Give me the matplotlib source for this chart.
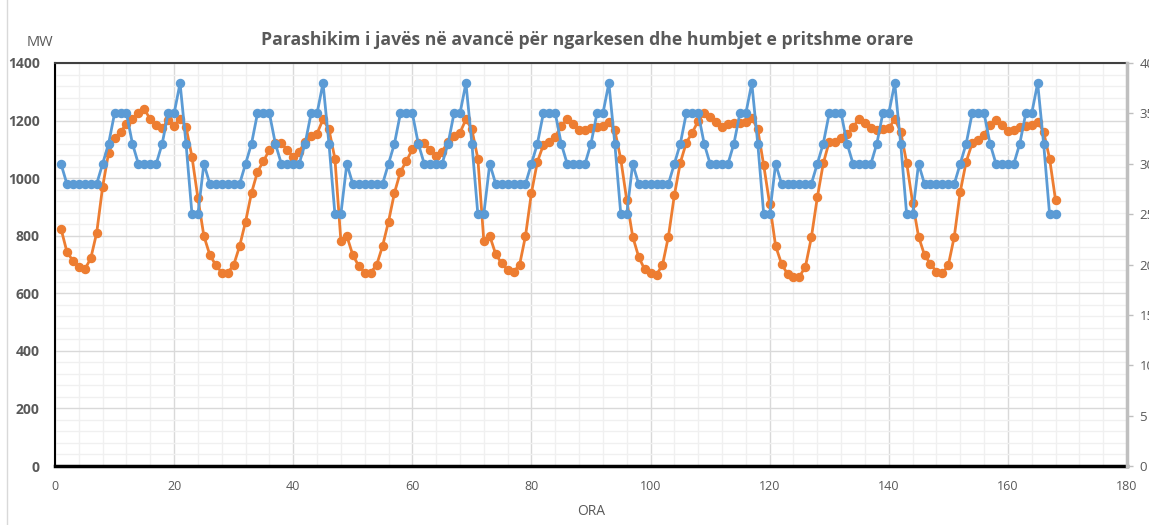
import numpy as np
import matplotlib
matplotlib.use("Agg")
import matplotlib.pyplot as plt
from matplotlib.ticker import MultipleLocator

plt.rcParams["font.family"] = ["Open Sans", "DejaVu Sans"]

# hourly load forecast (MW, left axis), one list per day
load_day1 = [825, 744, 713, 692, 683, 721, 810, 970, 1088, 1138, 1161, 1188,
             1204, 1225, 1240, 1204, 1184, 1173, 1202, 1181, 1207, 1178, 1074, 930]
load_day2 = [799, 733, 698, 672, 672, 698, 764, 849, 949, 1022, 1059, 1098,
             1121, 1121, 1098, 1074, 1092, 1127, 1146, 1155, 1204, 1169, 1068, 783]
load_day3 = [799, 733, 695, 672, 672, 698, 764, 849, 949, 1022, 1059, 1100,
             1123, 1121, 1098, 1077, 1092, 1127, 1146, 1158, 1204, 1169, 1068, 783]
load_day4 = [799, 736, 704, 681, 675, 698, 799, 949, 1057, 1115, 1127, 1144,
             1182, 1204, 1188, 1167, 1167, 1173, 1179, 1180, 1195, 1166, 1066, 924]
load_day5 = [797, 727, 683, 672, 665, 698, 797, 941, 1054, 1123, 1158, 1199,
             1225, 1213, 1196, 1176, 1188, 1190, 1190, 1194, 1210, 1169, 1045, 910]
load_day6 = [764, 702, 667, 658, 658, 692, 794, 933, 1051, 1127, 1127, 1138,
             1153, 1176, 1207, 1193, 1173, 1167, 1169, 1173, 1205, 1161, 1054, 915]
load_day7 = [797, 733, 702, 675, 669, 698, 797, 953, 1057, 1121, 1132, 1150,
             1184, 1202, 1184, 1165, 1167, 1176, 1181, 1184, 1196, 1161, 1068, 924]

# expected hourly losses (right axis), one list per day
loss_day1 = [30, 28, 28, 28, 28, 28, 28, 30, 32, 35, 35, 35, 32, 30, 30, 30, 30, 32, 35, 35, 38, 32, 25, 25]
loss_day2 = [30, 28, 28, 28, 28, 28, 28, 30, 32, 35, 35, 35, 32, 30, 30, 30, 30, 32, 35, 35, 38, 32, 25, 25]
loss_day3 = [30, 28, 28, 28, 28, 28, 28, 30, 32, 35, 35, 35, 32, 30, 30, 30, 30, 32, 35, 35, 38, 32, 25, 25]
loss_day4 = [30, 28, 28, 28, 28, 28, 28, 30, 32, 35, 35, 35, 32, 30, 30, 30, 30, 32, 35, 35, 38, 32, 25, 25]
loss_day5 = [30, 28, 28, 28, 28, 28, 28, 30, 32, 35, 35, 35, 32, 30, 30, 30, 30, 32, 35, 35, 38, 32, 25, 25]
loss_day6 = [30, 28, 28, 28, 28, 28, 28, 30, 32, 35, 35, 35, 32, 30, 30, 30, 30, 32, 35, 35, 38, 32, 25, 25]
loss_day7 = [30, 28, 28, 28, 28, 28, 28, 30, 32, 35, 35, 35, 32, 30, 30, 30, 30, 32, 35, 35, 38, 32, 25, 25]

load = load_day1 + load_day2 + load_day3 + load_day4 + load_day5 + load_day6 + load_day7
losses = loss_day1 + loss_day2 + loss_day3 + loss_day4 + loss_day5 + loss_day6 + loss_day7
hours = np.arange(1, len(load) + 1)

ORANGE = "#ED7D31"
BLUE = "#5B9BD5"
GREY_TXT = "#595959"

fig = plt.figure(figsize=(11.49, 5.25), dpi=100)
ax = fig.add_axes([55 / 1149, 1 - 466 / 525, (1127 - 55) / 1149, (466 - 63) / 525])

ax.plot(hours, load, color=ORANGE, lw=2.0, marker="o", ms=5.8, zorder=3)
ax.set_xlim(0, 180)
ax.set_ylim(0, 1400)
ax.xaxis.set_major_locator(MultipleLocator(20))
ax.xaxis.set_minor_locator(MultipleLocator(4))
ax.yaxis.set_major_locator(MultipleLocator(200))
ax.yaxis.set_minor_locator(MultipleLocator(40))
ax.grid(which="major", color="#d9d9d9", lw=1.0)
ax.grid(which="minor", color="#f0f0f0", lw=1.0)
ax.set_axisbelow(True)

ax.tick_params(axis="both", which="both", length=0)
ax.tick_params(axis="y", pad=11, labelsize=10, labelcolor=GREY_TXT)
ax.tick_params(axis="x", pad=10, labelsize=9, labelcolor=GREY_TXT)
for lab in ax.get_yticklabels():
    lab.set_fontweight("bold")

ax.spines["left"].set_color("black")
ax.spines["left"].set_linewidth(1.5)
ax.spines["bottom"].set_color("black")
ax.spines["bottom"].set_linewidth(2.5)
ax.spines["top"].set_color("#404040")
ax.spines["top"].set_linewidth(1.5)

ax2 = ax.twinx()
ax2.plot(hours, losses, color=BLUE, lw=2.0, marker="o", ms=5.8, zorder=4)
ax2.set_ylim(0, 40)
ax2.yaxis.set_major_locator(MultipleLocator(5))
ax2.tick_params(axis="y", length=4, width=1, color="#bfbfbf", pad=5,
                labelsize=9.5, labelcolor=GREY_TXT)
ax2.spines["right"].set_color("#bfbfbf")
ax2.spines["right"].set_linewidth(2.5)
ax2.spines["top"].set_visible(False)
ax2.spines["left"].set_visible(False)
ax2.spines["bottom"].set_visible(False)

ax.set_xlabel("ORA", fontsize=10, color=GREY_TXT, labelpad=8)
fig.text(40 / 1149, 1 - 42 / 525, "MW", fontsize=10.5, color=GREY_TXT,
         ha="center", va="center")
fig.text(587 / 1149, 1 - 40 / 525,
         "Parashikim i javës në avancë për ngarkesen dhe humbjet e pritshme orare",
         fontsize=12.7, fontweight="bold", color=GREY_TXT, ha="center", va="center")

# thin chart-area border on the left
fig.add_artist(plt.Line2D([7 / 1149, 7 / 1149], [0, 1], color="#d9d9d9", lw=1,
                          transform=fig.transFigure))

fig.savefig("out.png", dpi=100)
